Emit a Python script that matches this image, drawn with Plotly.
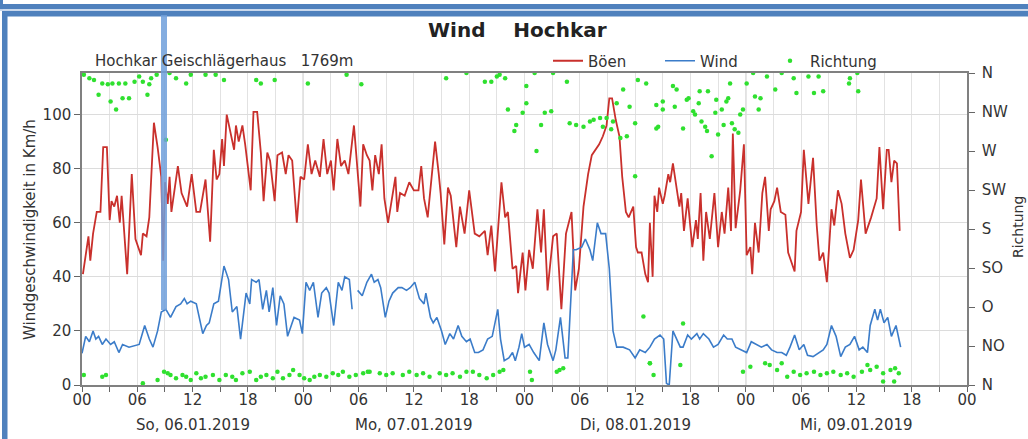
import plotly.graph_objects as go

# ---------------- data (hours since So, 06.01.2019 00:00) ----------------
hours_boeen = [0.1,0.7,0.9,1.2,1.6,2.0,2.3,2.7,3.0,3.2,3.5,3.8,4.1,4.3,4.9,5.4,5.8,6.1,6.4,6.6,7.0,7.3,7.8,8.2,8.6,8.8,9.0,9.3,9.5,9.7,
               10.4,10.8,11.4,11.9,12.4,12.8,13.4,13.9,14.3,14.6,14.9,15.2,15.4,15.7,16.1,16.5,16.7,17.0,17.4,17.7,18.3,18.6,19.0,19.4,19.7,
               20.1,20.4,20.9,21.2,21.7,22.1,22.4,22.8,23.3,23.7,24.1,24.5,24.9,25.3,25.8,26.2,26.6,27.0,27.3,27.7,28.1,28.5,28.9,29.5,
               30.2,30.5,30.9,31.2,31.5,31.8,32.2,32.5,32.8,33.2,33.7,34.0,34.2,34.5,35.0,35.5,36.0,36.5,36.8,37.1,37.5,37.8,38.3,38.7,38.9,
               39.3,39.7,40.0,40.6,41.0,41.5,42.0,42.6,43.1,43.7,44.0,44.4,44.8,45.5,45.9,46.2,46.7,47.1,47.3,47.8,48.1,48.5,48.9,49.4,49.8,
               50.1,50.5,51.1,51.5,51.7,52.0,52.5,53.1,53.5,53.9,54.4,54.9,55.3,55.7,56.1,56.5,56.9,57.2,57.5,57.9,58.3,58.6,59.0,59.3,59.8,
               60.1,60.3,60.7,61.1,61.4,61.6,61.9,62.1,62.4,62.6,63.0,63.2,63.6,63.8,64.1,64.5,64.8,65.0,65.3,65.7,66.2,66.6,66.8,67.1,67.4,
               67.7,68.1,68.6,69.0,69.4,69.7,70.1,70.4,70.6,70.9,71.4,71.8,72.1,72.5,72.7,73.0,73.4,73.8,74.1,74.5,74.7,75.1,75.4,75.8,76.3,
               76.6,77.3,77.5,78.0,78.3,78.8,79.3,79.7,80.0,80.4,80.8,81.3,81.6,82.0,82.4,82.8,83.3,83.7,84.2,84.5,85.0,85.6,86.2,86.5,86.9,
               87.3,87.5,87.8,88.1,88.4,88.7]
boeen = [41,55,46,56,64,64,88,88,61,68,66,70,60,70,41,78,54,51,48,56,55,62,97,88,77,46,75,67,77,64,
         81,71,66,78,64,64,76,53,87,76,78,91,81,100,94,87,96,90,96,89,72,101,101,86,68,
         86,83,68,85,86,78,85,83,60,77,76,89,78,83,77,91,78,83,72,91,81,83,78,96,
         66,89,85,83,72,85,78,89,69,60,71,77,64,71,70,75,72,72,81,69,62,72,90,78,71,
         52,73,70,51,66,56,72,56,55,57,48,59,42,75,62,64,43,44,34,49,35,50,43,65,49,
         65,35,55,56,43,28,56,64,35,43,66,78,85,87,89,92,96,106,106,98,92,77,64,62,66,
         51,49,49,41,38,60,40,70,64,73,67,70,78,75,82,73,66,71,57,69,51,61,54,71,46,
         64,54,71,51,64,56,73,57,93,58,72,89,48,51,41,60,49,71,77,57,65,68,73,64,63,
         49,42,57,64,87,67,84,59,46,49,38,65,59,72,67,56,47,50,61,76,56,62,69,88,65,
         87,87,75,83,82,57]

hours_wind = [0.0,0.4,0.8,1.2,1.5,1.8,2.2,2.6,3.1,3.5,4.0,4.4,5.1,6.2,6.8,7.3,7.7,8.2,8.6,9.1,9.6,10.2,10.7,11.1,11.4,11.8,12.4,
              13.1,13.5,13.8,14.3,14.8,15.4,15.9,16.3,16.8,17.2,17.8,18.2,18.4,18.9,19.2,19.6,20.0,20.3,20.7,21.1,21.5,21.9,22.3,22.7,
              23.0,23.6,23.9,24.3,24.7,25.1,25.6,26.0,26.5,26.8,27.3,27.8,28.2,28.5,29.0,29.3,29.6,29.9,30.4,30.9,31.4,31.7,32.1,32.4,
              32.9,33.3,33.7,34.3,34.7,35.2,35.6,36.1,36.6,37.1,37.3,37.8,38.1,38.5,39.0,39.4,39.9,40.3,40.8,41.2,41.7,42.1,42.6,43.0,
              43.5,44.0,44.5,45.1,45.4,45.8,46.3,46.7,47.0,47.4,47.7,48.0,48.5,49.0,49.6,50.1,50.5,51.1,51.4,51.9,52.4,52.7,53.3,53.6,
              54.2,54.6,55.1,55.4,55.9,56.3,56.8,57.2,57.6,58.0,58.7,59.4,60.0,60.5,61.1,61.6,62.1,62.7,63.1,63.4,63.7,64.1,64.5,64.9,
              65.2,65.7,66.1,66.7,67.0,67.4,68.0,68.5,69.0,69.6,70.0,70.5,70.9,71.6,72.1,72.6,73.2,73.7,74.3,74.8,75.4,75.9,76.4,76.8,
              77.3,77.8,78.3,78.7,79.3,79.9,80.4,80.8,81.3,81.8,82.3,82.8,83.3,83.8,84.3,84.7,85.2,85.5,86.0,86.3,86.6,87.0,87.4,87.8,
              88.3,88.8]
wind = [11.7,18,16,20,17,18,15,17,15,16,12,15,14,15,22,17,14,20,27,28,25,29,30,32,30,31,30,
        19,22,23,30,31,44,39,27,29,17,34,30,39,38,39,28,35,27,36,22,33,30,18,22,
        25,24,19,38,35,38,25,34,36,34,22,38,35,40,39,28,None,35,33,38,41,38,39,36,
        25,31,34,36,36,35,36,38,32,30,34,25,23,25,20,15,19,17,22,18,16,17,12,12,
        13,17,18,28,17,9,10,12,9,14,19,14,15,12,9,23,15,9,13,25,10,10,50,50,
        51,54,50,46,60,56,56,43,20,14,14,13,10,13,12,14,17,18.5,17,0.6,0,20,17,14,
        14,18.5,17,19,17,19,17,14,15,18.5,17,17,14,13,12,16,15,14,15,13,12,12,11,14,
        18.5,13,15,11,10.5,12,13,15,22,18,10.5,14,15,18,13,14,12,22,28,24,28,23,25,18,
        22,14]

hours_dir = [0.2,0.8,1.3,1.8,2.2,2.8,3.1,3.3,3.7,4.0,4.4,4.7,5.1,5.7,6.2,6.6,7.1,7.3,7.5,8.1,9.1,9.5,10.2,11.3,11.8,13.4,14.5,
             15.4,18.9,19.4,20.9,24.5,28.7,30.3,
             0.2,2.2,2.6,6.6,8.2,8.9,9.3,9.6,10.2,10.9,11.3,11.8,12.4,12.9,13.4,14.2,14.9,15.6,16.3,16.7,17.4,18.2,18.9,19.4,20.0,
             20.7,21.2,21.8,22.5,22.9,23.6,24.1,24.7,25.2,25.8,26.5,27.2,27.8,28.3,29.0,29.7,30.5,31.0,
             39.5,41.7,43.7,44.4,45.0,45.3,45.9,46.2,47.1,46.9,47.8,48.2,48.2,49.1,49.3,49.8,50.2,50.9,51.1,52.6,52.9,53.6,54.4,
             55.1,55.5,56.2,56.5,56.9,57.4,57.6,58.0,58.4,58.7,59.1,59.4,60.0,60.0,60.3,61.2,62.3,62.3,60.9,61.6,
             31.2,32.3,33.0,33.7,34.8,35.5,36.3,37.0,37.7,38.8,39.5,40.2,41.0,41.7,42.4,43.1,43.9,44.6,45.3,45.7,48.6,48.8,
             51.5,51.8,52.2,62.0,
             62.5,63.0,63.0,64.1,64.5,64.3,65.2,65.6,65.8,66.3,66.5,67.0,66.9,67.2,67.6,67.9,67.8,68.3,68.7,68.8,69.0,69.4,69.6,
             69.9,70.1,70.3,70.5,70.8,71.2,71.4,71.7,72.1,72.8,73.0,73.4,73.6,74.3,75.2,75.9,77.2,77.5,78.8,79.4,79.9,80.4,83.2,
             83.3,84.1,84.2,65.2,64.9,
             61.6,71.7,72.5,74.1,74.6,75.4,75.9,76.5,77.2,77.9,78.6,79.4,80.1,80.8,81.5,82.3,83.0,83.7,84.6,85.2,85.5,86.2,86.9,
             86.9,87.7,88.2,88.6,88.1]
richtung = [358,354,352,335,348,347,327,348,318,348,331,348,331,350,356,350,335,347,354,358,283,360,354,348,358,358,358,
            352,352,348,352,348,358,347,
            11.5,9.6,11.5,1.9,5.8,15.4,13.5,11.5,7.7,11.5,9.6,5.8,13.5,7.7,9.6,11.5,5.8,11.5,9.6,5.8,13.5,15.4,5.8,9.6,11.5,
            7.7,15.4,7.7,11.5,17.3,11.5,7.7,5.8,9.6,11.5,9.6,13.5,11.5,15.4,9.6,11.5,13.5,15.4,
            354,360,350,350,356,358,354,318,300,293,314,345,325,360,270,300,314,316,360,350,302,300,298,
            304,306,308,298,308,295,304,325,285,341,287,321,302,241,352,348,323,296,79,25,
            15.4,13.5,11.5,13.5,11.5,15.4,11.5,13.5,9.6,13.5,11.5,13.5,9.6,15.4,15.4,11.5,7.7,11.5,15.4,17.3,15.4,5.8,
            15.4,17.3,19.2,11.5,
            298,327,318,345,341,321,296,329,331,316,312,339,325,304,298,339,293,264,314,329,289,318,300,
            327,331,348,302,295,291,312,318,348,360,333,318,331,356,341,360,354,337,356,337,356,339,348,
            354,360,339,71,23,
            25,15.4,21.2,25,23.1,17.3,25,9.6,15.4,11.5,13.5,15.4,11.5,13.5,15.4,11.5,13.5,9.6,15.4,23.1,17.3,21.2,13.5,
            3.9,17.3,19.2,13.5,3.9]

speed_ticks = [0, 20, 40, 60, 80, 100]
dir_ticks = [0, 45, 90, 135, 180, 225, 270, 315, 360]
dir_labels = ["N", "NO", "O", "SO", "S", "SW", "W", "NW", "N"]
hour_ticks = list(range(0, 97, 6))
hour_labels = ["00", "06", "12", "18"] * 4 + ["00"]
day_lines = [24, 48, 72]
date_pos = [12, 36, 60, 84]
date_labels = ["So, 06.01.2019", "Mo, 07.01.2019", "Di, 08.01.2019", "Mi, 09.01.2019"]

# ---------------- layout geometry ----------------
W, H = 1028, 439
L, R, T, B = 82, 61, 73, 54
PW, PH = W - L - R, H - T - B


def px(x):
    return (x - L) / PW


def py(y):
    return (H - B - y) / PH


FONT = "DejaVu Sans"
TXT = "#333333"

fig = go.Figure()
fig.add_trace(go.Scatter(x=hours_boeen, y=boeen, mode="lines", name="Böen",
                         line=dict(color="#c9302c", width=1.8), legend="legend"))
fig.add_trace(go.Scatter(x=hours_wind, y=wind, mode="lines", name="Wind",
                         line=dict(color="#3b7cc9", width=1.6), connectgaps=False, legend="legend2"))
fig.add_trace(go.Scatter(x=hours_dir, y=richtung, mode="markers", name="Richtung", yaxis="y2",
                         marker=dict(color="#2fe02f", size=4.5), legend="legend3"))

shapes = []
for d in day_lines:
    shapes.append(dict(type="line", xref="x", yref="paper", x0=d, x1=d, y0=0, y1=1,
                       line=dict(color="#9a9a9a", width=1), layer="between"))

blue = "#4f81bd"
def rect(x0, y0, x1, y1, color, opacity=1.0, layer="above"):
    return dict(type="rect", xref="paper", yref="paper", x0=px(x0), x1=px(x1), y0=py(y1), y1=py(y0),
                fillcolor=color, line=dict(width=0), opacity=opacity, layer=layer)

shapes += [
    rect(0, 4, W, 9.3, blue),
    rect(0, 0, 3, 9.3, blue),
    rect(0, 9.3, W, 11, "#c9d8ec"),
    rect(2, 11, W, 16.5, blue),
    rect(2, 11, 7.5, H, blue),
    rect(161, 15, 167, 310, "#6f9fdb", opacity=0.85),
]

annotations = [
    dict(text="<b>Wind\u00a0\u00a0\u00a0\u00a0Hochkar</b>", xref="paper", yref="paper", x=px(517), y=py(30),
         showarrow=False, font=dict(family=FONT, size=20, color="#222222"), xanchor="center", yanchor="middle"),
    dict(text="Hochkar Geischlägerhaus\u00a0\u00a0\u00a01769m", xref="paper", yref="paper", x=px(93), y=py(61),
         showarrow=False, font=dict(family=FONT, size=15, color=TXT), xanchor="left", yanchor="middle"),
    dict(text="Windgeschwindigkeit in Km/h", xref="paper", yref="paper", x=px(30), y=py(230), textangle=-90,
         showarrow=False, font=dict(family=FONT, size=15, color=TXT), xanchor="center", yanchor="middle"),
    dict(text="Richtung", xref="paper", yref="paper", x=px(1018), y=py(227), textangle=-90,
         showarrow=False, font=dict(family=FONT, size=14, color=TXT), xanchor="center", yanchor="middle"),
]
for xp, lab in zip(date_pos, date_labels):
    annotations.append(dict(text=lab, xref="x", yref="paper", x=xp, y=py(425), showarrow=False,
                            font=dict(family=FONT, size=15, color=TXT), xanchor="center", yanchor="middle"))

leg_common = dict(orientation="h", yanchor="middle", y=py(61), xanchor="left", bgcolor="rgba(0,0,0,0)",
                  font=dict(family=FONT, size=15, color=TXT), borderwidth=0)

fig.update_layout(
    width=W, height=H,
    margin=dict(l=L, r=R, t=T, b=B, pad=0),
    paper_bgcolor="white", plot_bgcolor="white",
    showlegend=True,
    legend=dict(x=px(548), **leg_common),
    legend2=dict(x=px(660), **leg_common),
    legend3=dict(x=px(770), **leg_common),
    xaxis=dict(range=[0, 96], tickvals=hour_ticks, ticktext=hour_labels, ticks="outside", ticklen=5,
               tickcolor="#666666", tickwidth=1.2, showgrid=True, gridcolor="#e2e2e2", gridwidth=1,
               minor=dict(dtick=3, tick0=0, ticks="outside", ticklen=5, tickcolor="#666666",
                          showgrid=True, gridcolor="#e2e2e2"),
               showline=True, linecolor="#808080", linewidth=2, mirror=True, zeroline=False,
               ticklabelstandoff=-5,
               tickfont=dict(family=FONT, size=15, color=TXT)),
    yaxis=dict(range=[0, 115.4], tickvals=speed_ticks, ticks="outside", ticklen=6, tickcolor="#666666",
               showgrid=True, gridcolor="#dcdcdc", showline=True, linecolor="#808080", linewidth=1.5,
               zeroline=False, tickfont=dict(family=FONT, size=15, color=TXT)),
    yaxis2=dict(range=[0, 360], tickvals=dir_ticks, ticktext=dir_labels, overlaying="y", side="right",
                ticks="outside", ticklen=6, tickcolor="#666666", showgrid=False, showline=True,
                linecolor="#808080", linewidth=1.5, zeroline=False, ticklabelstandoff=4,
                tickfont=dict(family=FONT, size=15, color=TXT)),
    shapes=shapes,
    annotations=annotations,
)

fig.write_html("out.html", config={"displayModeBar": False},
               post_script="document.body.style.margin='0';document.body.style.overflow='hidden';")
